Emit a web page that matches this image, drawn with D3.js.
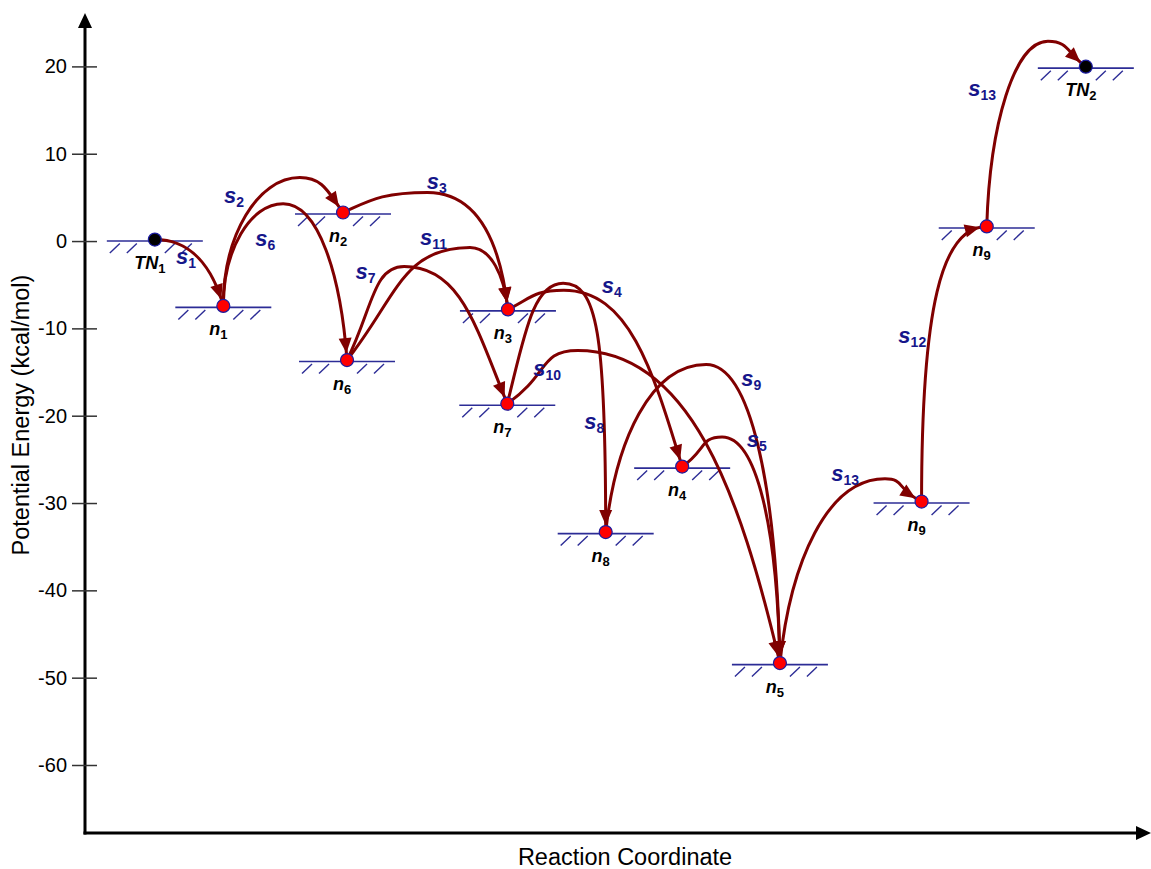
<!DOCTYPE html>
<html>
<head>
<meta charset="utf-8">
<script src="https://cdn.jsdelivr.net/npm/d3@7"></script>
<style>
  html, body { margin: 0; padding: 0; background: #fff; }
  svg { display: block; }
  text { font-family: "Liberation Sans", Arial, sans-serif; }
</style>
</head>
<body>
<svg id="chart" width="1151" height="869"></svg>
<script>
// Energy levels: name, subscript, reaction coordinate, energy (kcal/mol), kind
const nodeNames = ["TN1", "n1", "n2", "n6", "n3", "n7", "n8", "n4", "n5", "n9a", "n9b", "TN2"];
const nodeBase  = ["TN", "n", "n", "n", "n", "n", "n", "n", "n", "n", "n", "TN"];
const nodeSubs  = ["1", "1", "2", "6", "3", "7", "8", "4", "5", "9", "9", "2"];
const nodeRc    = [1.05, 2.08, 3.88, 3.94, 6.36, 6.35, 7.83, 8.98, 10.45, 12.58, 13.56, 15.05];
const nodeEnergy = [0.0, -7.6, 3.1, -13.8, -8.0, -18.8, -33.5, -26.0, -48.5, -30.0, 1.5, 19.8];
const nodeTerminal = [true, false, false, false, false, false, false, false, false, false, false, true];

// Steps: label subscript, source, target, barrier peak (rc, energy), curve shape
const stepSubs   = ["1", "2", "6", "3", "11", "7", "4", "8", "10", "9", "5", "13", "12", "13"];
const stepFrom   = ["TN1", "n1", "n1", "n2", "n6", "n6", "n3", "n7", "n7", "n8", "n4", "n5", "n9a", "n9b"];
const stepTo     = ["n1", "n2", "n6", "n3", "n3", "n7", "n4", "n8", "n5", "n5", "n5", "n9a", "n9b", "TN2"];
const peakRc     = [1.05, 3.23, 2.98, 5.15, 5.79, 4.8, 7.2, 7.19, 7.41, 9.34, 9.58, 12.03, 13.56, 14.48];
const peakEnergy = [0.0, 7.1, 4.1, 5.4, -0.9, -3.1, -5.8, -5.0, -12.7, -14.3, -22.6, -27.4, 1.5, 22.7];
const leanOut    = [0.0, 0.0, 0.0, 0.3, 0.4, 0.45, 0.4, 0.3, 0.6, 0.1, 0.6, 0.1, 0.0, 0.05];
const leanIn     = [0.15, 0.33, 0.1, 0.1, 0.1, 0.3, 0.25, 0.0, 0.2, 0.05, 0.05, 0.7, 0.0, 0.5];
const fallRound  = [0.55, 0.55, 0.55, 0.6, 0.55, 0.55, 0.55, 0.8, 0.55, 0.6, 0.6, 0.55, 0.7, 0.55];
// Label anchors (rc, energy)
const labelRc     = [1.52, 2.24, 2.71, 5.29, 5.24, 4.22, 7.92, 7.66, 6.95, 10.02, 10.1, 11.43, 12.44, 13.49];
const labelEnergy = [-1.95, 5.04, 0.11, 6.7, 0.2, -3.66, -5.27, -20.84, -14.77, -15.92, -22.9, -26.8, -10.99, 17.29];

const yTicks = [20, 10, 0, -10, -20, -30, -40, -50, -60];
const xTitle = "Reaction Coordinate";
const yTitle = "Potential Energy (kcal/mol)";

const svg = d3.select("#chart");
const x = d3.scaleLinear().domain([0, 16]).range([85, 1149]);
const y = d3.scaleLinear().domain([-60, 20]).range([765, 66.4]);

const arrowRed = "#800000";
const levelBlue = "#2c2c96";
const labelNavy = "#16168a";
const dotR = 6.5;

const nodes = nodeNames.map((n, i) => ({
  id: n, base: nodeBase[i], sub: nodeSubs[i], rc: nodeRc[i], e: nodeEnergy[i], terminal: nodeTerminal[i]
}));
const byId = new Map(nodes.map(d => [d.id, d]));
const dotPos = d => ({ x: x(d.rc), y: y(d.e) - 1.5 });

const steps = stepSubs.map((s, i) => ({
  sub: s, from: byId.get(stepFrom[i]), to: byId.get(stepTo[i]),
  peak: { x: x(peakRc[i]), y: y(peakEnergy[i]) - 1.5 },
  out: leanOut[i], inn: leanIn[i], kf: fallRound[i],
  lx: x(labelRc[i]), ly: y(labelEnergy[i])
}));

// ---- axes ----
const axisG = svg.append("g");
const yBottom = 833, yTop = 13, xRight = 1151;
axisG.append("line").attr("x1", 85).attr("x2", 85).attr("y1", yBottom + 1.5).attr("y2", yTop + 12)
  .attr("stroke", "#000").attr("stroke-width", 3);
axisG.append("path").attr("d", `M85,${yTop} L${85 - 7},${yTop + 15} L${85 + 7},${yTop + 15} Z`).attr("fill", "#000");
axisG.append("line").attr("x1", 83.5).attr("x2", xRight - 12).attr("y1", yBottom).attr("y2", yBottom)
  .attr("stroke", "#000").attr("stroke-width", 3);
axisG.append("path").attr("d", `M${xRight},${yBottom} L${xRight - 15},${yBottom - 7} L${xRight - 15},${yBottom + 7} Z`).attr("fill", "#000");

const yAxis = svg.append("g").attr("transform", "translate(85,0)")
  .call(d3.axisLeft(y).tickValues(yTicks).tickSize(13).tickPadding(5).tickFormat(d => String(d)));
yAxis.select(".domain").remove();
yAxis.selectAll(".tick line").attr("x2", 12).attr("x1", -13).attr("stroke", "#333").attr("stroke-width", 1.5);
yAxis.selectAll(".tick text").attr("font-size", 20).attr("fill", "#000")
  .attr("font-family", "Liberation Sans, Arial, sans-serif");

svg.append("text").attr("x", 625).attr("y", 865).attr("text-anchor", "middle")
  .attr("font-size", 23.5).attr("fill", "#000").text(xTitle);
svg.append("text").attr("transform", "translate(29,415) rotate(-90)").attr("text-anchor", "middle")
  .attr("font-size", 23.5).attr("fill", "#000").text(yTitle);

// ---- energy levels with hatching ----
const levelG = svg.append("g");
const hatchOffsets = [-45, -28, 10, 27];
nodes.forEach(d => {
  const cx = x(d.rc), ly = y(d.e);
  levelG.append("line").attr("x1", cx - 48).attr("x2", cx + 48).attr("y1", ly).attr("y2", ly)
    .attr("stroke", levelBlue).attr("stroke-width", 1.6);
  hatchOffsets.forEach(o => {
    levelG.append("line").attr("x1", cx + o).attr("y1", ly + 12).attr("x2", cx + o + 10).attr("y2", ly + 2.5)
      .attr("stroke", levelBlue).attr("stroke-width", 1.4);
  });
});

// ---- reaction steps ----
const k = 0.55;
function stepPath(s) {
  const S = dotPos(s.from), T = dotPos(s.to), A = s.peak;
  let d = `M${S.x},${S.y}`;
  const riseLen = Math.hypot(A.x - S.x, A.y - S.y);
  const fallLen = Math.hypot(T.x - A.x, T.y - A.y);
  if (fallLen < 1) {
    // climbs straight into the target: vertical start, horizontal arrival
    d += ` C${S.x + s.out * (T.x - S.x)},${S.y + s.kf * (T.y - S.y)} ${T.x - s.kf * (T.x - S.x)},${T.y} ${T.x},${T.y}`;
    return d;
  }
  if (riseLen > 1) {
    d += ` C${S.x + s.out * (A.x - S.x)},${S.y + k * (A.y - S.y)} ${A.x - k * (A.x - S.x)},${A.y} ${A.x},${A.y}`;
  }
  d += ` C${A.x + s.kf * (T.x - A.x)},${A.y} ${T.x - s.inn * (T.x - A.x)},${T.y - s.kf * (T.y - A.y)} ${T.x},${T.y}`;
  return d;
}

const stepG = svg.append("g");
steps.forEach(s => {
  const p = stepG.append("path").attr("d", stepPath(s)).attr("fill", "none")
    .attr("stroke", arrowRed).attr("stroke-width", 3);
  const node = p.node();
  const L = node.getTotalLength();
  const tip = node.getPointAtLength(L - dotR - 0.5);
  const back = node.getPointAtLength(L - dotR - 4);
  let dx = tip.x - back.x, dy = tip.y - back.y;
  const m = Math.hypot(dx, dy); dx /= m; dy /= m;
  const bx = tip.x - dx * 15, by = tip.y - dy * 15;
  const px = -dy * 6.5, py = dx * 6.5;
  stepG.append("path")
    .attr("d", `M${tip.x},${tip.y} L${bx + px},${by + py} L${bx - px},${by - py} Z`)
    .attr("fill", arrowRed);
});

// ---- level markers ----
svg.append("g").selectAll("circle").data(nodes).join("circle")
  .attr("cx", d => dotPos(d).x).attr("cy", d => dotPos(d).y).attr("r", dotR)
  .attr("fill", d => d.terminal ? "#000" : "#ff0000")
  .attr("stroke", "#1c1ca0").attr("stroke-width", 1.2);

// ---- node labels ----
const nl = svg.append("g").selectAll("text").data(nodes).join("text")
  .attr("x", d => x(d.rc) - 5).attr("y", d => y(d.e) + 28)
  .attr("text-anchor", "middle").attr("fill", "#000");
nl.append("tspan").attr("font-size", 18).attr("font-weight", "bold").attr("font-style", "italic").text(d => d.base);
nl.append("tspan").attr("font-size", 13).attr("font-weight", "bold").attr("dy", 4).text(d => d.sub);

// ---- step labels ----
const sl = svg.append("g").selectAll("text").data(steps).join("text")
  .attr("x", d => d.lx).attr("y", d => d.ly + 6)
  .attr("text-anchor", "middle").attr("fill", labelNavy);
sl.append("tspan").attr("font-size", 22).attr("font-weight", "bold").attr("font-style", "italic").text("s");
sl.append("tspan").attr("font-size", 14).attr("font-weight", "bold").attr("dy", 4).text(d => d.sub);
</script>
</body>
</html>
